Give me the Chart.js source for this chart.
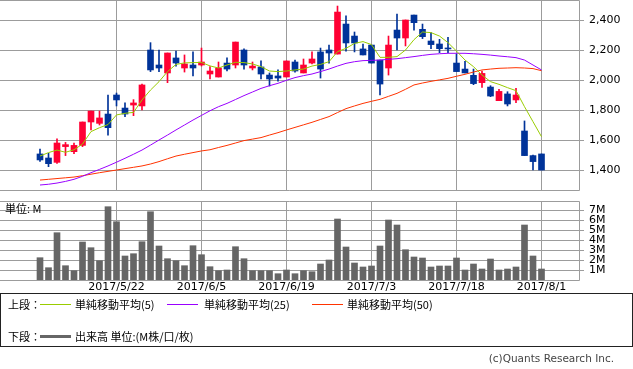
<!DOCTYPE html>
<html><head><meta charset="utf-8">
<script src="https://cdn.jsdelivr.net/npm/chart.js@4"></script>
<style>
body{margin:0;background:#fff;width:633px;height:369px;overflow:hidden;position:relative;font-family:"DejaVu Sans",sans-serif;}
canvas{position:absolute;left:0;}
#c1{top:0;}
#c2{top:195px;}
.t{position:absolute;font-size:11px;white-space:nowrap;line-height:12px;color:#000;font-family:"Noto Sans CJK JP",sans-serif;}
.ln{position:absolute;height:1px;}
#legend{position:absolute;left:0;top:293px;width:633px;height:54px;border:1px solid #222;box-sizing:border-box;}
</style></head><body>
<canvas id="c1" width="633" height="191"></canvas>
<canvas id="c2" width="633" height="100"></canvas>
<div class="t" style="left:5px;top:202px;">単位: M</div>
<div id="legend"></div>
<div class="t" style="left:8px;top:298px;">上段：</div>
<div class="ln" style="left:40px;top:304px;width:31px;background:#99cc00;"></div>
<div class="t" style="left:75px;top:298px;">単純移動平均(5)</div>
<div class="ln" style="left:167px;top:304px;width:31px;background:#9900ff;"></div>
<div class="t" style="left:204px;top:298px;">単純移動平均(25)</div>
<div class="ln" style="left:312px;top:304px;width:31px;background:#ff3300;"></div>
<div class="t" style="left:347px;top:298px;">単純移動平均(50)</div>
<div class="t" style="left:8px;top:330px;">下段：</div>
<div class="ln" style="left:40px;top:335px;width:31px;height:3px;background:#666;"></div>
<div class="t" style="left:75px;top:330px;">出来高 単位:(M株/口/枚)</div>
<div class="t" style="right:19px;top:352px;color:#444;font-family:'DejaVu Sans',sans-serif;font-size:10.5px;">(c)Quants Research Inc.</div>
<script>
const dates = [
"2017/5/9","2017/5/10","2017/5/11","2017/5/12","2017/5/15","2017/5/16","2017/5/17","2017/5/18","2017/5/19","2017/5/22",
"2017/5/23","2017/5/24","2017/5/25","2017/5/26","2017/5/29","2017/5/30","2017/5/31","2017/6/1","2017/6/2","2017/6/5",
"2017/6/6","2017/6/7","2017/6/8","2017/6/9","2017/6/12","2017/6/13","2017/6/14","2017/6/15","2017/6/16","2017/6/19",
"2017/6/20","2017/6/21","2017/6/22","2017/6/23","2017/6/26","2017/6/27","2017/6/28","2017/6/29","2017/6/30","2017/7/3",
"2017/7/4","2017/7/5","2017/7/6","2017/7/7","2017/7/10","2017/7/11","2017/7/12","2017/7/13","2017/7/14","2017/7/18",
"2017/7/19","2017/7/20","2017/7/21","2017/7/24","2017/7/25","2017/7/26","2017/7/27","2017/7/28","2017/7/31","2017/8/1"];
const dateTickLabels = ["2017/5/22","2017/6/5","2017/6/19","2017/7/3","2017/7/18","2017/8/1"];
const openP  = [1507,1480,1451,1556,1522,1564,1720,1711,1773,1900,1813,1833,1827,2200,2100,2047,2147,2080,2100,2100,2040,2020,2113,2100,2200,2080,2087,2033,2027,2020,2120,2047,2113,2187,2200,2173,2373,2293,2207,2233,2133,2080,2333,2280,2433,2338,2260,2240,2211,2113,2073,2031,1982,1953,1862,1907,1867,1660,1496,1507];
const highP  = [1540,1511,1607,1584,1580,1720,1793,1793,1900,1913,1847,1869,1973,2249,2200,2180,2193,2167,2187,2213,2089,2120,2147,2253,2207,2120,2127,2047,2067,2127,2133,2140,2187,2213,2233,2493,2427,2320,2240,2233,2133,2293,2440,2400,2433,2373,2316,2271,2284,2173,2124,2073,2060,1962,1938,1922,1944,1727,1500,1507];
const lowP   = [1458,1422,1444,1496,1509,1556,1667,1700,1633,1827,1756,1762,1800,2056,2056,1982,2093,2053,2027,2093,2007,2020,2060,2080,2073,2067,2007,1960,1993,2020,2053,2047,2107,2013,2113,2173,2193,2187,2167,2113,1900,2033,2200,2227,2333,2276,2209,2182,2182,2056,2047,1969,1951,1889,1862,1827,1849,1496,1400,1400];
const closeP = [1467,1442,1580,1569,1564,1720,1793,1747,1682,1867,1773,1847,1967,2067,2080,2180,2113,2107,2080,2120,2060,2080,2073,2253,2100,2093,2040,2007,2013,2127,2060,2100,2140,2073,2180,2453,2247,2247,2167,2113,1973,2233,2280,2400,2382,2289,2236,2209,2207,2056,2047,1976,2044,1893,1924,1840,1900,1496,1456,1400];
const ma5  = [1493,1516,1533,1518,1535,1573,1656,1682,1703,1767,1778,1784,1867,1933,1989,2056,2104,2114,2116,2117,2094,2080,2100,2118,2116,2107,2089,2060,2056,2060,2067,2073,2093,2104,2122,2189,2211,2244,2256,2236,2151,2151,2156,2200,2269,2320,2316,2293,2249,2193,2133,2089,2033,1989,1971,1949,1929,1822,1722,1622];
const ma25 = [1300,1305,1313,1324,1338,1358,1382,1404,1427,1452,1478,1505,1533,1566,1600,1633,1667,1700,1733,1764,1795,1822,1844,1870,1896,1920,1944,1962,1978,1998,2016,2029,2040,2056,2073,2093,2111,2122,2129,2131,2133,2138,2142,2149,2156,2164,2171,2175,2178,2178,2178,2175,2171,2166,2160,2155,2149,2133,2100,2067];
const ma50 = [1333,1338,1343,1348,1353,1362,1372,1382,1391,1400,1409,1418,1427,1440,1456,1475,1493,1505,1516,1527,1535,1550,1564,1580,1596,1606,1616,1633,1649,1667,1684,1701,1718,1737,1756,1783,1809,1827,1844,1858,1871,1891,1911,1938,1967,1980,1991,2001,2011,2025,2038,2053,2067,2073,2078,2080,2082,2080,2076,2062];
const volumeM = [2.23,1.23,4.73,1.43,0.93,3.8,3.23,1.93,7.33,5.83,2.4,2.63,3.83,6.83,3.4,2.13,1.93,1.43,3.43,2.53,1.33,0.93,1.0,3.33,2.13,0.93,0.93,0.93,0.63,1.0,0.63,0.93,0.83,1.6,2.0,6.1,3.3,1.7,1.3,1.4,3.4,6.0,5.5,3.03,2.3,2.2,1.3,1.4,1.4,2.2,1.0,1.6,1.1,2.1,1.0,1.1,1.3,5.5,2.4,1.1];
const priceTicks = [1400,1600,1800,2000,2200,2400];
const volumeTicks = [1,2,3,4,5,6,7];

const UP = '#ff0033', DOWN = '#003399', GRID = '#9c9c9c';
const idx = dates.map((d, i) => i);
const tickIdx = dateTickLabels.map(l => dates.indexOf(l));
const candleColor = idx.map(i => closeP[i] >= openP[i] ? UP : DOWN);
const X_MIN = -40 / 8.5, X_MAX = -40 / 8.5 + 579 / 8.5;

const frame = {
  id: 'frame',
  beforeDatasetsDraw(chart) {
    const { ctx, chartArea: a } = chart;
    ctx.save();
    ctx.strokeStyle = GRID; ctx.lineWidth = 1;
    const t = Math.round(a.top) + 0.5, b = Math.round(a.bottom) + 0.5, r = Math.round(a.right) + 0.5;
    ctx.beginPath();
    ctx.moveTo(0, t); ctx.lineTo(r, t); ctx.lineTo(r, b); ctx.lineTo(0, b);
    ctx.stroke();
    ctx.restore();
  }
};
const font = { family: 'DejaVu Sans', size: 11 };
const xAxis = (showLabels) => ({
  type: 'linear', min: X_MIN, max: X_MAX, offset: false,
  afterBuildTicks: a => { a.ticks = tickIdx.map(v => ({ value: v })); },
  ticks: { display: showLabels, callback: v => dates[v], font, color: '#000', padding: 1, maxRotation: 0, autoSkip: false },
  grid: { color: GRID, drawTicks: false, offset: false },
  border: { display: false },
  afterFit: a => { a.height = showLabels ? 15 : 0; a.paddingLeft = 0; a.paddingRight = 0; }
});

new Chart(document.getElementById('c1'), {
  type: 'bar',
  data: { datasets: [
    { type: 'line', data: idx.map(i => ({ x: i, y: ma5[i] })), borderColor: '#99cc00', borderWidth: 1, pointRadius: 0, order: 0 },
    { type: 'line', data: idx.map(i => ({ x: i, y: ma25[i] })), borderColor: '#9900ff', borderWidth: 1, pointRadius: 0, order: 0 },
    { type: 'line', data: idx.map(i => ({ x: i, y: ma50[i] })), borderColor: '#ff3300', borderWidth: 1, pointRadius: 0, order: 0 },
    { type: 'bar', data: idx.map(i => ({ x: i, y: [openP[i], closeP[i]] })), backgroundColor: candleColor, barThickness: 6, grouped: false, minBarLength: 1, order: 1 },
    { type: 'bar', data: idx.map(i => ({ x: i, y: [lowP[i], highP[i]] })), backgroundColor: candleColor, barThickness: 1, grouped: false, order: 2 }
  ]},
  options: {
    responsive: false, animation: false, devicePixelRatio: 1,
    layout: { padding: { top: 0, bottom: 1, left: 0, right: 0 } },
    plugins: { legend: { display: false }, tooltip: { enabled: false } },
    scales: {
      x: xAxis(false),
      y: {
        position: 'right', min: 1400 - 20 * 200 / 30, max: 2400 + 20 * 200 / 30,
        afterBuildTicks: a => { a.ticks = priceTicks.map(v => ({ value: v })); },
        ticks: { callback: v => v.toLocaleString('en-US'), font, color: '#000', padding: 5, autoSkip: false },
        grid: { color: GRID, tickLength: 5 },
        border: { display: false },
        afterFit: a => { a.width = 54; a.paddingTop = 0; a.paddingBottom = 0; }
      }
    }
  },
  plugins: [frame]
});

new Chart(document.getElementById('c2'), {
  type: 'bar',
  data: { datasets: [
    { data: idx.map(i => ({ x: i, y: volumeM[i] })), backgroundColor: '#666666', barThickness: 6, grouped: false }
  ]},
  options: {
    responsive: false, animation: false, devicePixelRatio: 1,
    layout: { padding: { top: 6, bottom: 0, left: 0, right: 0 } },
    plugins: { legend: { display: false }, tooltip: { enabled: false } },
    scales: {
      x: xAxis(true),
      y: {
        position: 'right', min: 0, max: 7.9,
        afterBuildTicks: a => { a.ticks = volumeTicks.map(v => ({ value: v })); },
        ticks: { callback: v => v + 'M', font, color: '#000', padding: 5, autoSkip: false },
        grid: { color: GRID, tickLength: 5 },
        border: { display: false },
        afterFit: a => { a.width = 54; a.paddingTop = 0; a.paddingBottom = 0; }
      }
    }
  },
  plugins: [frame]
});
</script>
</body></html>
